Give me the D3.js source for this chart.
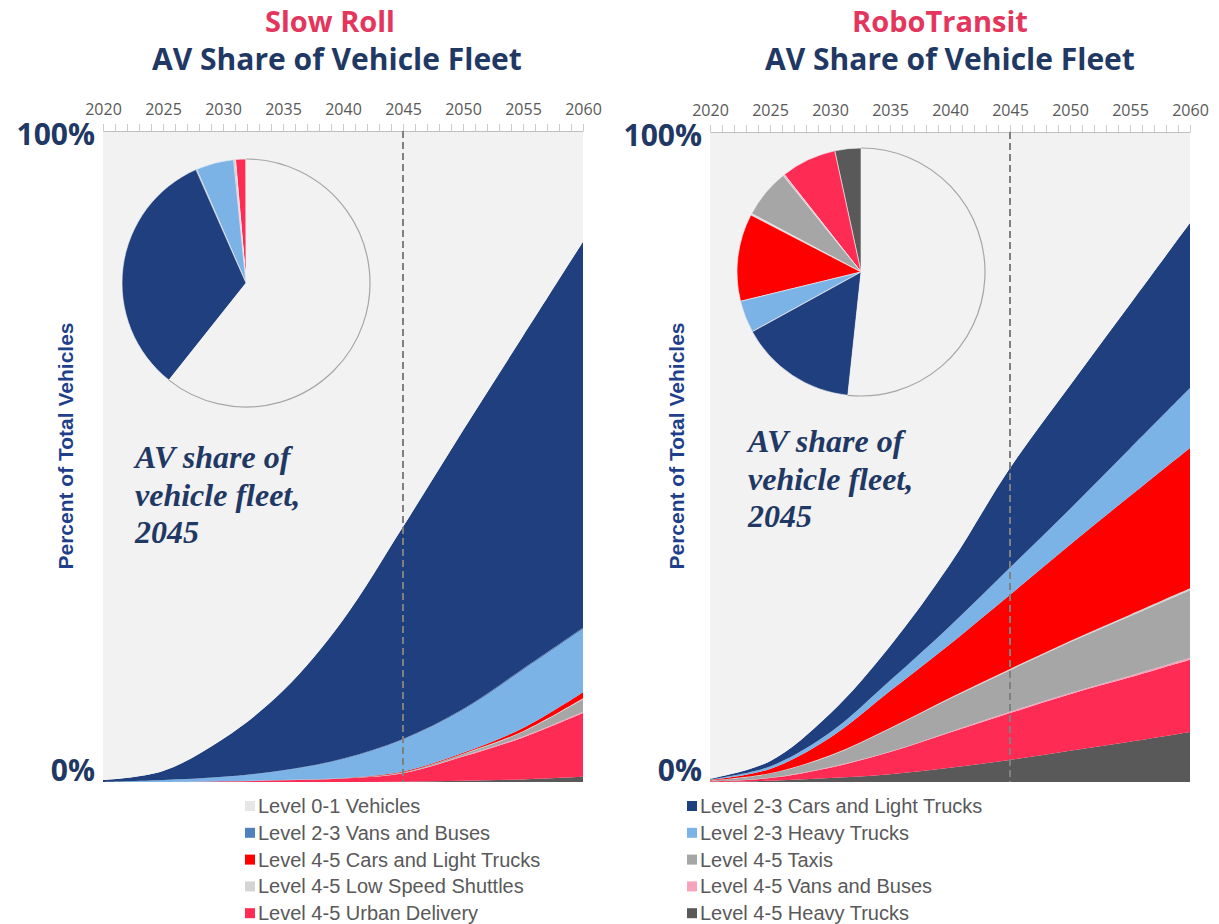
<!DOCTYPE html>
<html>
<head>
<meta charset="utf-8">
<script src="https://cdnjs.cloudflare.com/ajax/libs/d3/7.8.5/d3.min.js"></script>
<style>
  body { margin: 0; background: #fff; }
  svg { display: block; }
</style>
</head>
<body>
<svg width="1219" height="924"></svg>
<script>
// years read every 5 years, values are % of total vehicles
const years = [2020, 2025, 2030, 2035, 2040, 2045, 2050, 2055, 2060];
const labelYears = [2020, 2025, 2030, 2035, 2040, 2045, 2050, 2055, 2060];

// stack order, bottom to top
const seriesKeys = ["hvy45", "urb45", "van45", "taxi45", "lss45", "car45", "hvy23", "van23", "car23", "lvl01"];
const seriesLabels = {
    lvl01: "Level 0-1 Vehicles",
    car23: "Level 2-3 Cars and Light Trucks",
    van23: "Level 2-3 Vans and Buses",
    hvy23: "Level 2-3 Heavy Trucks",
    car45: "Level 4-5 Cars and Light Trucks",
    taxi45: "Level 4-5 Taxis",
    lss45: "Level 4-5 Low Speed Shuttles",
    van45: "Level 4-5 Vans and Buses",
    urb45: "Level 4-5 Urban Delivery",
    hvy45: "Level 4-5 Heavy Trucks"
};
const seriesColors = {
    lvl01: "#f2f2f2",
    car23: "#1f3f7e",
    van23: "#4f81bd",
    hvy23: "#7cb3e6",
    car45: "#ff0000",
    taxi45: "#a6a6a6",
    lss45: "#d4d4d4",
    van45: "#f7a3bb",
    urb45: "#fe2c55",
    hvy45: "#595959"
};
const legendLeft = ["lvl01", "van23", "car45", "lss45", "urb45"];
const legendRight = ["car23", "hvy23", "taxi45", "van45", "hvy45"];

// Slow Roll
const slowHvy45 = [0, 0, 0, 0, 0, 0.05, 0.2, 0.4, 0.8];
const slowUrb45 = [0, 0, 0.1, 0.25, 0.55, 1.3, 3.7, 6.45, 9.8];
const slowVan45 = [0, 0, 0, 0, 0, 0.05, 0.1, 0.15, 0.2];
const slowTaxi45 = [0, 0, 0, 0.05, 0.05, 0.1, 0.3, 0.7, 1.9];
const slowLss45 = [0, 0, 0, 0, 0, 0, 0.05, 0.1, 0.15];
const slowCar45 = [0, 0, 0, 0, 0, 0.1, 0.15, 0.5, 0.95];
const slowHvy23 = [0, 0.3, 0.7, 1.45, 2.9, 4.9, 6.55, 8.9, 9.7];
const slowVan23 = [0, 0, 0, 0.05, 0.1, 0.1, 0.15, 0.2, 0.2];
const slowCar23 = [0.3, 1.4, 5.8, 12.2, 21.3, 32.6, 42.8, 51.1, 59.3];
const slowLvl01 = [99.7, 98.3, 93.4, 86, 75.1, 60.5, 46, 31.5, 17];

// RoboTransit
const roboHvy45 = [0, 0.2, 0.6, 1.2, 2.2, 3.4, 4.8, 6.2, 7.7];
const roboUrb45 = [0.1, 0.4, 1.6, 3.4, 5.4, 7.2, 8.7, 9.9, 11.1];
const roboVan45 = [0, 0.05, 0.1, 0.1, 0.15, 0.2, 0.2, 0.25, 0.3];
const roboTaxi45 = [0.1, 0.65, 1.7, 3.5, 5.05, 6.4, 7.8, 9.15, 10.4];
const roboLss45 = [0, 0.05, 0.1, 0.1, 0.15, 0.2, 0.2, 0.25, 0.3];
const roboCar45 = [0.1, 0.65, 2.7, 5.7, 8.25, 11.4, 14.8, 18.25, 21.6];
const roboHvy23 = [0.1, 0.4, 0.8, 1.6, 2.8, 4.2, 5.5, 7.3, 9.2];
const roboVan23 = [0, 0, 0, 0, 0, 0, 0, 0, 0];
const roboCar23 = [0.1, 0.8, 2.9, 5.3, 9.5, 15.3, 19, 22.2, 25.4];
const roboLvl01 = [99.5, 96.8, 89.5, 79.1, 66.5, 51.7, 39, 26.5, 14];

const pieYear = 2045;

const svg = d3.select("svg");
const titleFont = "'Open Sans', sans-serif";

const panels = [
    {
        name: "Slow Roll", nameX: 330, subX: 337,
        x0: 103, x1: 583, top: 131, bottom: 782,
        pieX: 246, pieY: 283,
        noteX: 135, noteY: 468, yTitleX: 66,
        legendX: 245, legendKeys: legendLeft,
        data: { hvy45: slowHvy45, urb45: slowUrb45, van45: slowVan45, taxi45: slowTaxi45, lss45: slowLss45,
                car45: slowCar45, hvy23: slowHvy23, van23: slowVan23, car23: slowCar23, lvl01: slowLvl01 }
    },
    {
        name: "RoboTransit", nameX: 940, subX: 950,
        x0: 710, x1: 1190, top: 132, bottom: 782,
        pieX: 861, pieY: 272,
        noteX: 748, noteY: 452, yTitleX: 677,
        legendX: 687, legendKeys: legendRight,
        data: { hvy45: roboHvy45, urb45: roboUrb45, van45: roboVan45, taxi45: roboTaxi45, lss45: roboLss45,
                car45: roboCar45, hvy23: roboHvy23, van23: roboVan23, car23: roboCar23, lvl01: roboLvl01 }
    }
];

panels.forEach(p => {
    const g = svg.append("g");
    const x = d3.scaleLinear().domain([2020, 2060]).range([p.x0, p.x1]);
    const y = d3.scaleLinear().domain([0, 100]).range([p.bottom, p.top]);

    // titles
    g.append("text")
        .attr("x", p.nameX).attr("y", 32)
        .attr("text-anchor", "middle")
        .attr("font-family", titleFont).attr("font-weight", 700).attr("font-size", 29)
        .attr("fill", "#e4365d")
        .text(p.name);
    g.append("text")
        .attr("x", p.subX).attr("y", 70)
        .attr("text-anchor", "middle")
        .attr("font-family", titleFont).attr("font-weight", 700).attr("font-size", 30)
        .attr("fill", "#1f3864")
        .text("AV Share of Vehicle Fleet");

    g.append("rect")
        .attr("x", p.x0).attr("y", p.top)
        .attr("width", p.x1 - p.x0).attr("height", p.bottom - p.top)
        .attr("fill", "#f2f2f2");

    const rows = years.map((yr, i) => {
        const r = { year: yr };
        seriesKeys.forEach(k => { r[k] = p.data[k][i]; });
        return r;
    });
    const stacked = d3.stack().keys(seriesKeys)(rows);
    const area = d3.area()
        .x(d => x(d.data.year))
        .y0(d => y(d[0]))
        .y1(d => y(Math.min(d[1], 100)))
        .curve(d3.curveCatmullRom.alpha(0.5));

    g.selectAll("path.band")
        .data(stacked)
        .join("path")
        .classed("band", true)
        .attr("fill", d => seriesColors[d.key])
        .attr("d", area);

    // top year axis
    const axis = d3.axisTop(x)
        .tickValues(d3.range(2020, 2061))
        .tickSize(7).tickSizeOuter(0).tickPadding(9)
        .tickFormat(d => labelYears.includes(d) ? d : "");
    const ax = g.append("g")
        .attr("transform", `translate(0,${p.top})`)
        .call(axis);
    ax.select(".domain").attr("stroke", "#bfbfbf");
    ax.selectAll(".tick line").attr("stroke", "#cccccc");
    ax.selectAll(".tick text")
        .attr("font-family", titleFont).attr("font-size", 16)
        .attr("fill", "#595959");

    // 2045 marker
    g.append("line")
        .attr("x1", x(pieYear)).attr("x2", x(pieYear))
        .attr("y1", p.top).attr("y2", p.bottom)
        .attr("stroke", "#808080").attr("stroke-width", 2)
        .attr("stroke-dasharray", "7,4");

    // y labels
    g.append("text")
        .attr("x", p.x0 - 8).attr("y", p.top + 14)
        .attr("text-anchor", "end")
        .attr("font-family", titleFont).attr("font-weight", 700).attr("font-size", 30)
        .attr("fill", "#1f3864")
        .text("100%");
    g.append("text")
        .attr("x", p.x0 - 8).attr("y", p.bottom - 1)
        .attr("text-anchor", "end")
        .attr("font-family", titleFont).attr("font-weight", 700).attr("font-size", 30)
        .attr("fill", "#1f3864")
        .text("0%");

    g.append("text")
        .attr("transform", `translate(${p.yTitleX},446) rotate(-90)`)
        .attr("text-anchor", "middle")
        .attr("dy", "0.35em")
        .attr("font-family", "'Liberation Sans Narrow', 'Arial Narrow', sans-serif")
        .attr("font-weight", 700).attr("font-size", 21)
        .attr("fill", "#1f3f8a")
        .text("Percent of Total Vehicles");

    // pie for 2045
    const idx = years.indexOf(pieYear);
    const pieData = seriesKeys.map(k => ({ key: k, value: p.data[k][idx] }));
    const pie = d3.pie().sort(null).value(d => d.value)
        .startAngle(0).endAngle(-2 * Math.PI);
    const r = 124;
    const arc = d3.arc().innerRadius(0).outerRadius(r);
    const pg = g.append("g").attr("transform", `translate(${p.pieX},${p.pieY})`);
    const slices = pie(pieData);
    pg.selectAll("path.slice")
        .data(slices)
        .join("path")
        .classed("slice", true)
        .attr("fill", d => seriesColors[d.data.key])
        .attr("stroke", d => d.data.key === "lvl01" ? "none" : "#f2f2f2")
        .attr("stroke-width", 0.6)
        .attr("d", arc);
    const rim = slices.find(d => d.data.key === "lvl01");
    pg.append("path")
        .attr("fill", "none")
        .attr("stroke", "#a6a6a6").attr("stroke-width", 1.2)
        .attr("d", d3.arc().innerRadius(r).outerRadius(r)(rim));

    // annotation
    const note = g.append("text")
        .attr("font-family", "'Liberation Serif', 'Times New Roman', serif")
        .attr("font-style", "italic").attr("font-weight", 700).attr("font-size", 32)
        .attr("fill", "#1f3864");
    ["AV share of", "vehicle fleet,", String(pieYear)].forEach((t, i) => {
        note.append("tspan").attr("x", p.noteX).attr("y", p.noteY + i * 37.5).text(t);
    });

    // legend
    const lg = g.append("g");
    p.legendKeys.forEach((k, i) => {
        const yy = 806 + i * 26.8;
        lg.append("rect")
            .attr("x", p.legendX).attr("y", yy - 5)
            .attr("width", 10).attr("height", 10)
            .attr("fill", k === "lvl01" ? "#e6e6e6" : seriesColors[k]);
        lg.append("text")
            .attr("x", p.legendX + 13).attr("y", yy + 7)
            .attr("font-family", "'Liberation Sans', Arial, sans-serif").attr("font-size", 20)
            .attr("fill", "#595959")
            .text(seriesLabels[k]);
    });
});
</script>
</body>
</html>
